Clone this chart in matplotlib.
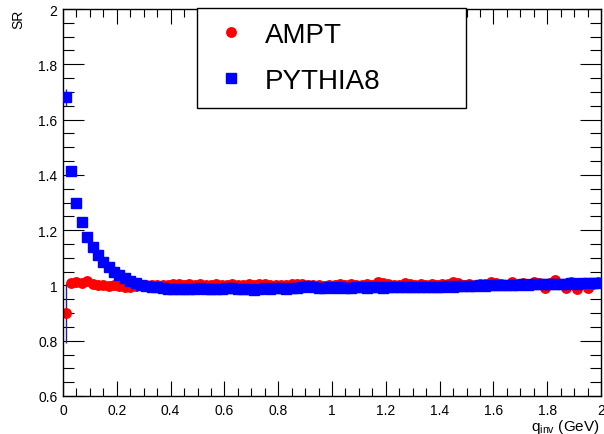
import numpy as np
import matplotlib
matplotlib.use("Agg")
import matplotlib.pyplot as plt
from matplotlib.ticker import MultipleLocator
from matplotlib.lines import Line2D

plt.rcParams['font.family'] = ['Liberation Sans', 'DejaVu Sans']

# bin centres (100 bins of width 0.02 GeV)
q_inv = [0.01 + 0.02 * k for k in range(100)]

ampt_sr = [
    0.900, 1.010, 1.012, 1.010, 1.015, 1.005, 1.003, 1.000, 0.998, 1.000,
    0.997, 0.995, 0.996, 0.998, 1.000, 1.002, 1.003, 1.001, 1.000, 1.002,
    1.004, 1.005, 1.003, 1.006, 1.002, 1.004, 1.003, 1.001, 1.004, 1.002,
    1.003, 1.005, 1.002, 1.001, 1.004, 1.003, 1.006, 1.004, 1.003, 1.002,
    1.000, 1.003, 1.005, 1.004, 1.006, 1.002, 1.000, 1.003, 0.998, 1.001,
    1.003, 1.004, 1.002, 1.005, 1.003, 1.001, 1.004, 1.002, 1.012, 1.008,
    1.004, 1.001, 1.003, 1.008, 1.006, 1.003, 1.004, 1.002, 1.005, 1.003,
    1.006, 1.004, 1.012, 1.008, 1.003, 1.005, 1.002, 1.006, 1.004, 1.012,
    1.010, 1.005, 1.002, 1.013, 1.006, 1.008, 1.003, 1.014, 1.010, 0.990,
    1.010, 1.020, 1.006, 0.992, 1.012, 0.988, 1.006, 0.990, 1.004, 1.012,
]

pythia_sr = [
    1.680, 1.415, 1.300, 1.228, 1.175, 1.140, 1.110, 1.085, 1.065, 1.050,
    1.038, 1.028, 1.017, 1.008, 1.003, 0.999, 0.996, 0.993, 0.990, 0.988,
    0.987, 0.988, 0.986, 0.988, 0.987, 0.989, 0.988, 0.986, 0.988, 0.987,
    0.989, 0.990, 0.988, 0.986, 0.987, 0.985, 0.988, 0.990, 0.987, 0.989,
    0.991, 0.988, 0.989, 0.990, 0.996, 0.998, 0.993, 0.990, 0.992, 0.994,
    0.991, 0.993, 0.992, 0.990, 0.993, 0.994, 0.992, 0.993, 0.995, 0.992,
    0.994, 0.993, 0.995, 0.994, 0.996, 0.994, 0.993, 0.995, 0.994, 0.996,
    0.995, 0.997, 0.996, 0.998, 0.997, 0.999, 0.998, 1.000, 0.999, 1.001,
    1.000, 1.002, 1.001, 1.003, 1.002, 1.004, 1.003, 1.005, 1.004, 1.006,
    1.005, 1.004, 1.006, 1.005, 1.007, 1.006, 1.008, 1.007, 1.009, 1.010,
]

ampt_err = [0.110] + [0.003] * 99
pythia_err = [0.030, 0.010] + [0.003] * 98

x_ticks = [0, 0.2, 0.4, 0.6, 0.8, 1.0, 1.2, 1.4, 1.6, 1.8, 2.0]
x_tick_labels = ["0", "0.2", "0.4", "0.6", "0.8", "1", "1.2", "1.4", "1.6", "1.8", "2"]
y_ticks = [0.6, 0.8, 1.0, 1.2, 1.4, 1.6, 1.8, 2.0]
y_tick_labels = ["0.6", "0.8", "1", "1.2", "1.4", "1.6", "1.8", "2"]

W, H = 604, 435
fig = plt.figure(figsize=(W / 100, H / 100), dpi=100)
ax = fig.add_axes([63 / W, 38 / H, (601 - 63) / W, (397 - 10) / H])

ecol = '#2020a0'
ax.errorbar(q_inv, ampt_sr, yerr=ampt_err, fmt='o', color='#ff0000', ms=6.8,
            mec='#ff0000', ecolor=ecol, elinewidth=1.0, capsize=0, zorder=2)
ax.errorbar(q_inv, pythia_sr, yerr=pythia_err, fmt='s', color='#0000ff', ms=7,
            mec='#0000ff', ecolor=ecol, elinewidth=1.0, capsize=0, zorder=3)

ax.set_xlim(0, 2)
ax.set_ylim(0.6, 2)
ax.set_xticks(x_ticks)
ax.set_xticklabels(x_tick_labels)
ax.set_yticks(y_ticks)
ax.set_yticklabels(y_tick_labels)
ax.xaxis.set_minor_locator(MultipleLocator(0.05))
ax.yaxis.set_minor_locator(MultipleLocator(0.05))
ax.tick_params(axis='both', which='both', direction='in', top=True, right=True,
               labelsize=10, color='black', width=0.8)
ax.tick_params(axis='y', which='major', length=15, pad=4)
ax.tick_params(axis='y', which='minor', length=8)
ax.tick_params(axis='x', which='major', length=11, pad=5)
ax.tick_params(axis='x', which='minor', length=5.5)
for s in ax.spines.values():
    s.set_linewidth(1.0)

fig.text(18 / W, 1 - 10 / H, "SR", rotation=90, ha='center', va='top', fontsize=10)
fig.text(600 / W, 1 - 418 / H, r"q$_{\mathregular{inv}}$ (GeV)", ha='right',
         va='top', fontsize=11)

handles = [
    Line2D([], [], marker='o', ls='none', color='#ff0000', ms=6.8),
    Line2D([], [], marker='s', ls='none', color='#0000ff', ms=7),
]
leg = fig.legend(handles, ["AMPT", "PYTHIA8"], loc='upper left',
                 bbox_to_anchor=(197 / W, 1 - 9 / H, (466 - 197) / W, 0),
                 mode='expand', fontsize=20, frameon=True, fancybox=False,
                 edgecolor='black', borderpad=0.5, borderaxespad=0,
                 handlelength=1.45, handletextpad=0.5, labelspacing=0.72)
leg.get_frame().set_linewidth(1.0)
leg.get_frame().set_alpha(1)

fig.savefig("out.png", dpi=100)
